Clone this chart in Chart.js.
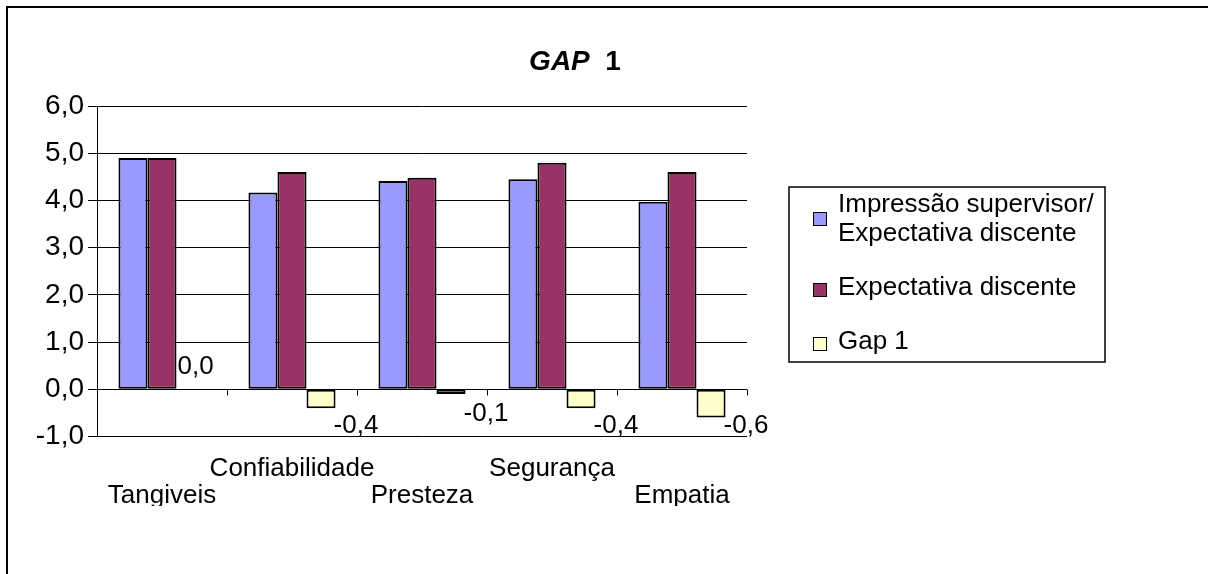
<!DOCTYPE html>
<html>
<head>
<meta charset="utf-8">
<title>GAP 1</title>
<script src="https://cdn.jsdelivr.net/npm/chart.js@4/dist/chart.umd.min.js"></script>
<style>
  html, body { margin: 0; padding: 0; background: #ffffff; }
  #wrap { width: 1208px; height: 574px; }
  canvas { display: block; }
</style>
</head>
<body>
<div id="wrap"><canvas id="chart" width="1208" height="574"></canvas></div>
<script>
// Dimensões do serviço avaliadas
const categories = ['Tangiveis', 'Confiabilidade', 'Presteza', 'Segurança', 'Empatia'];

// Médias por dimensão
const impressaoSupervisor = [4.90, 4.17, 4.41, 4.45, 3.97];
const expectativaDiscente = [4.90, 4.60, 4.48, 4.80, 4.60];
const gap1 = [0.0, -0.4, -0.1, -0.4, -0.6];

// Nomes das séries (a primeira ocupa duas linhas na legenda)
const seriesNames = ['Impressão supervisor/\nExpectativa discente', 'Expectativa discente', 'Gap 1'];
const seriesColors = ['#9999FF', '#993366', '#FFFFCC'];

// Eixo de valores
const yMin = -1;
const yMax = 6;
const yStep = 1;

const FONT = "'Liberation Sans', Arial, Helvetica, sans-serif";
const FS = 26;        // categorias, rótulos e legenda
const FS_TICK = 28;   // escala de valores
const FS_TITLE = 28;  // título
const fmt = v => (Math.abs(v) < 1e-9 ? 0 : v).toFixed(1).replace('.', ',');

// Moldura externa (bordas superior e esquerda)
const framePlugin = {
  id: 'frame',
  beforeDraw(chart) {
    const c = chart.ctx;
    c.save();
    c.fillStyle = '#ffffff';
    c.fillRect(0, 0, chart.width, chart.height);
    c.strokeStyle = '#000000';
    c.lineWidth = 2;
    c.beginPath();
    c.moveTo(7, chart.height);
    c.lineTo(7, 7);
    c.lineTo(chart.width, 7);
    c.stroke();
    c.restore();
  }
};

// Título: "GAP" em negrito itálico seguido de "1" em negrito
const titlePlugin = {
  id: 'gapTitle',
  afterDraw(chart) {
    const c = chart.ctx;
    c.save();
    const a = 'GAP', b = '  1';
    c.font = `italic bold ${FS_TITLE}px ${FONT}`;
    const wa = c.measureText(a).width;
    c.font = `bold ${FS_TITLE}px ${FONT}`;
    const wb = c.measureText(b).width;
    const cx = 575, cy = 62;
    const x = cx - (wa + wb) / 2;
    c.fillStyle = '#000';
    c.textBaseline = 'middle';
    c.textAlign = 'left';
    c.font = `italic bold ${FS_TITLE}px ${FONT}`;
    c.fillText(a, x, cy);
    c.font = `bold ${FS_TITLE}px ${FONT}`;
    c.fillText(b, x + wa, cy);
    c.restore();
  }
};

// Marcas de divisão entre categorias sobre a linha do zero e rótulos das categorias
const categoryAxisPlugin = {
  id: 'categoryAxis',
  afterDraw(chart) {
    const c = chart.ctx;
    const xs = chart.scales.x, ys = chart.scales.y;
    const area = chart.chartArea;
    const y0 = ys.getPixelForValue(0);
    const step = area.width / categories.length;
    c.save();
    c.strokeStyle = '#000';
    c.lineWidth = 1;
    c.beginPath();
    for (let i = 0; i < categories.length; i++) {
      const x = Math.round(xs.getPixelForValue(i) + step / 2) + 0.5;
      c.moveTo(x, Math.round(y0) + 0.5);
      c.lineTo(x, Math.round(y0) + 6.5);
    }
    c.stroke();

    // rótulos alternados em duas alturas, recortados na base da área
    c.beginPath();
    c.rect(0, area.bottom + 2, chart.width, 67.5);
    c.clip();
    c.fillStyle = '#000';
    c.font = `${FS}px ${FONT}`;
    c.textAlign = 'center';
    c.textBaseline = 'alphabetic';
    categories.forEach((name, i) => {
      const x = xs.getPixelForValue(i);
      const y = i % 2 === 0 ? area.bottom + 66.5 : area.bottom + 39.5;
      c.fillText(name, x, y);
    });
    c.restore();
  }
};

// Rótulos de valor da série Gap 1
const gapLabelPlugin = {
  id: 'gapLabels',
  afterDatasetsDraw(chart) {
    const c = chart.ctx;
    const meta = chart.getDatasetMeta(2);
    const area = chart.chartArea;
    c.save();
    c.fillStyle = '#000';
    c.font = `${FS}px ${FONT}`;
    c.textAlign = 'left';
    c.textBaseline = 'middle';
    meta.data.forEach((el, i) => {
      const v = gap1[i];
      const half = el.width / 2;
      if (Math.abs(v) < 1e-9) {
        c.fillText(fmt(v), el.x - half + 1, el.base - 22);
      } else {
        c.fillText(fmt(v), el.x + half - 2, Math.min(el.y + 20, area.bottom - 11));
      }
    });
    c.restore();
  }
};

// Legenda em caixa à direita
const legendBoxPlugin = {
  id: 'legendBox',
  afterDraw(chart) {
    const c = chart.ctx;
    c.save();
    c.strokeStyle = '#000';
    c.lineWidth = 1.5;
    c.strokeRect(789, 187, 316, 175);
    c.font = `${FS}px ${FONT}`;
    c.textAlign = 'left';
    c.textBaseline = 'middle';
    const rows = [
      { lines: [205, 234], marker: 212 },
      { lines: [288], marker: 283 },
      { lines: [342], marker: 337 }
    ];
    seriesNames.forEach((name, i) => {
      const r = rows[i];
      c.fillStyle = seriesColors[i];
      c.fillRect(813, r.marker, 13, 13);
      c.lineWidth = 1;
      c.strokeStyle = '#000';
      c.strokeRect(813.5, r.marker + 0.5, 13, 13);
      c.fillStyle = '#000';
      name.split('\n').forEach((t, k) => c.fillText(t, 838, r.lines[k]));
    });
    c.restore();
  }
};

const barStyle = { borderColor: '#000000', borderWidth: 2, borderSkipped: false,
                   categoryPercentage: 0.67, barPercentage: 1.0 };

new Chart(document.getElementById('chart').getContext('2d'), {
  type: 'bar',
  data: {
    labels: categories,
    datasets: [
      Object.assign({ label: seriesNames[0], data: impressaoSupervisor, backgroundColor: seriesColors[0] }, barStyle),
      Object.assign({ label: seriesNames[1], data: expectativaDiscente, backgroundColor: seriesColors[1] }, barStyle),
      Object.assign({ label: seriesNames[2], data: gap1, backgroundColor: seriesColors[2] }, barStyle)
    ]
  },
  options: {
    responsive: false,
    animation: false,
    devicePixelRatio: 1,
    layout: { padding: { left: 10, top: 106, right: 461, bottom: 137.5 } },
    plugins: {
      legend: { display: false },
      title: { display: false },
      tooltip: { enabled: false }
    },
    scales: {
      x: { display: false },
      y: {
        min: yMin,
        max: yMax,
        ticks: {
          stepSize: yStep,
          color: '#000',
          font: { family: FONT, size: FS_TICK },
          padding: 4,
          callback: v => fmt(v)
        },
        grid: { color: '#000', lineWidth: 1, drawTicks: true, tickLength: 9 },
        border: { display: true, color: '#000', width: 1 },
        afterFit(scale) { scale.width = 87; }
      }
    }
  },
  plugins: [framePlugin, titlePlugin, categoryAxisPlugin, gapLabelPlugin, legendBoxPlugin]
});
</script>
</body>
</html>
